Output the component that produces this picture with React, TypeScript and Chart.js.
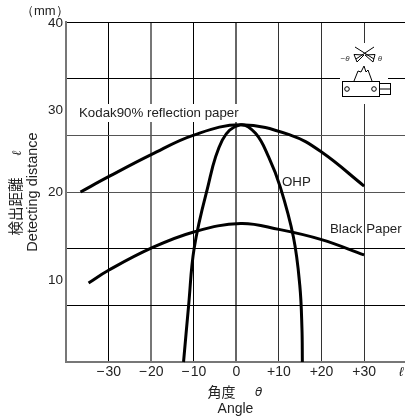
import React, { useEffect, useRef } from "react";
import { Chart, registerables } from "chart.js";

Chart.register(...registerables);

const kodakAngle = [-36.6, -30, -20, -10, 1, 12.7, 20, 30];
const kodakDist = [20, 21.8, 24.4, 26.7, 27.9, 26.7, 24.7, 20.7];
const ohpAngle = [-12.4, -11.2, -9.9, -7, -3.3, 0.9, 4.5, 7.6, 10.3, 13.4, 14.9, 15.4, 15.5];
const ohpDist = [0, 6.7, 13.4, 20, 26.1, 27.9, 26.9, 24.1, 20.6, 14.7, 9, 4, 0];
const blackAngle = [-34.7, -30, -20, -10, 1, 10, 20, 30];
const blackDist = [9.3, 10.8, 13.4, 15.3, 16.3, 15.6, 14.4, 12.6];

const xTicks = [-40, -30, -20, -10, 0, 10, 20, 30];
const xTickLabels = ["", "\u2212\u200A30", "\u2212\u200A20", "\u2212\u200A10", "0", "+10", "+20", "+30"];
const xGridColors = ["#808080", "#000000", "#777777", "#000000", "#666666", "#333333", "#333333", "#333333"];
const xGridWidths = [2, 1, 2, 1, 2, 1, 1, 1];
const yGridTicks = [0, 20 / 3, 40 / 3, 20, 80 / 3, 100 / 3, 40];
const yLabelTicks = [9.65, 20, 29.65, 39.85];
const yTickLabels = ["10", "20", "30", "40"];

const FONT = '"Liberation Sans", Arial, sans-serif';

const annotations = {
  id: "annotations",
  beforeDatasetsDraw(chart: any) {
    const c = chart.ctx;
    c.save();
    c.fillStyle = "#fff";
    c.fillRect(76, 104, 165, 18);
    c.fillRect(340, 43, 48, 61);
    c.restore();
  },
  afterDatasetsDraw(chart: any) {
    const c = chart.ctx;
    c.save();
    c.fillStyle = "#222";
    c.textBaseline = "middle";
    c.textAlign = "left";
    c.font = `13.3px ${FONT}`;
    c.fillText("Kodak90% reflection paper", 79, 113);
    c.fillText("OHP", 282, 182);
    c.fillText("Black Paper", 330, 229);
    c.font = `13px ${FONT}`;
    c.fillText("\uFF08mm\uFF09", 21, 11);
    c.font = `italic 13px ${FONT}`;
    c.fillText("\u2113", 399, 372);
    c.font = `italic 12px "DejaVu Sans", sans-serif`;
    c.fillText("\u03B8", 255, 393);
    c.font = `italic bold 13px "DejaVu Serif", serif`;
    c.save();
    c.translate(18, 153);
    c.rotate(-Math.PI / 2);
    c.textAlign = "center";
    c.fillText("\u2113", 0, 0);
    c.restore();

    // sensor pictogram
    c.strokeStyle = "#000";
    c.lineWidth = 1;
    const line = (pts: number[][], close = false) => {
      c.beginPath();
      pts.forEach((p, i) => (i ? c.lineTo(p[0], p[1]) : c.moveTo(p[0], p[1])));
      if (close) c.closePath();
      c.stroke();
    };
    c.strokeRect(342.5, 81.5, 37, 15);
    c.strokeRect(379.5, 83.5, 11, 11);
    line([[379.5, 89], [390.5, 89]]);
    c.beginPath();
    c.arc(347, 89, 2.3, 0, Math.PI * 2);
    c.stroke();
    c.beginPath();
    c.arc(374, 89, 2.3, 0, Math.PI * 2);
    c.stroke();
    line([[354, 81], [358, 71], [361, 72], [364, 66], [366, 72], [368, 70], [372, 81]]);
    line([[355, 47], [374, 59]]);
    line([[374, 47], [356, 59]]);
    line([[354, 54.5], [357, 62], [364, 55]], true);
    line([[375, 54.5], [373, 62], [365, 55]], true);
    c.fillStyle = "#333";
    c.font = `italic 8px ${FONT}`;
    c.textAlign = "center";
    c.fillText("\u2212\u03B8", 345, 59);
    c.fillText("\u03B8", 380, 59);
    c.restore();
  },
};

const toPoints = (xs: number[], ys: number[]) => xs.map((x, i) => ({ x, y: ys[i] }));

const curve = (label: string, xs: number[], ys: number[], borderWidth: number) => ({
  label,
  data: toPoints(xs, ys),
  showLine: true,
  borderColor: "#000",
  borderWidth,
  pointRadius: 0,
  tension: 0.4,
  borderCapStyle: "butt" as const,
  clip: false as const,
});

export default function App() {
  const ref = useRef<HTMLCanvasElement>(null);
  useEffect(() => {
    const chart = new Chart(ref.current!, {
      type: "scatter",
      data: {
        datasets: [
          curve("Kodak90% reflection paper", kodakAngle, kodakDist, 3),
          curve("OHP", ohpAngle, ohpDist, 3),
          curve("Black Paper", blackAngle, blackDist, 3),
        ],
      },
      plugins: [annotations],
      options: {
        animation: false,
        responsive: false,
        devicePixelRatio: 1,
        layout: { padding: { top: 22, right: 0, left: 0, bottom: 0 } },
        plugins: { legend: { display: false }, tooltip: { enabled: false }, title: { display: false } },
        scales: {
          x: {
            type: "linear",
            min: -40,
            max: 39.6,
            afterBuildTicks: (s: any) => {
              s.ticks = xTicks.map((value) => ({ value }));
            },
            afterFit: (s: any) => {
              s.height = 58;
            },
            ticks: {
              autoSkip: false,
              maxRotation: 0,
              padding: 2,
              color: "#222",
              font: { family: FONT, size: 14 },
              callback: (v: any) => xTickLabels[xTicks.indexOf(Number(v))] ?? "",
            },
            grid: {
              drawTicks: false,
              color: (ctx: any) => xGridColors[xTicks.indexOf(ctx.tick?.value)] ?? "#000",
              lineWidth: (ctx: any) => xGridWidths[xTicks.indexOf(ctx.tick?.value)] ?? 1,
            },
            border: { color: "#777", width: 2 },
            title: {
              display: true,
              text: ["\u89D2\u5EA6\u3000\u3000", "Angle"],
              color: "#222",
              padding: { top: 0, bottom: 3 },
              font: { family: `${FONT}, "Noto Sans CJK JP"`, size: 14, lineHeight: 1.15 },
            },
          },
          y: {
            type: "linear",
            min: 0,
            max: 40,
            afterBuildTicks: (s: any) => {
              s.ticks = [...yGridTicks, ...yLabelTicks.filter((v) => !yGridTicks.includes(v))]
                .sort((a, b) => a - b)
                .map((value) => ({ value }));
            },
            afterFit: (s: any) => {
              s.width = 66;
            },
            ticks: {
              autoSkip: false,
              padding: 3,
              color: "#222",
              font: { family: FONT, size: 13.5 },
              callback: (v: any) => yTickLabels[yLabelTicks.indexOf(Number(v))] ?? "",
            },
            grid: {
              drawTicks: false,
              color: (ctx: any) => {
                const v = ctx.tick?.value;
                if (!yGridTicks.includes(v)) return "rgba(0,0,0,0)";
                return v === 20 || v === 80 / 3 ? "#555" : "#000";
              },
              lineWidth: (ctx: any) => (yGridTicks.includes(ctx.tick?.value) ? 1 : 0),
            },
            border: { color: "#777", width: 2 },
            title: {
              display: true,
              text: ["\u691C\u51FA\u8DDD\u96E2\u3000\u3000", "Detecting distance"],
              color: "#222",
              padding: { top: 9, bottom: 0 },
              font: { family: `${FONT}, "Noto Sans CJK JP"`, size: 14.5, lineHeight: 1.12 },
            },
          },
        },
      },
    });
    return () => chart.destroy();
  }, []);
  return (
    <canvas
      ref={ref}
      width={405}
      height={420}
      style={{ position: "absolute", left: 0, top: 0, width: 405, height: 420 }}
    />
  );
}
